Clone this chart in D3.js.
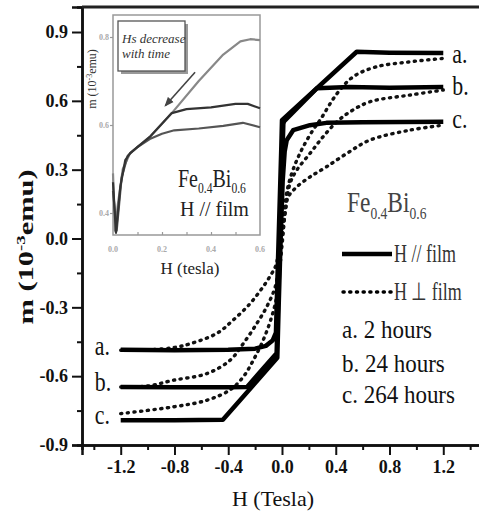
<!DOCTYPE html>
<html><head><meta charset="utf-8">
<script src="https://cdn.jsdelivr.net/npm/d3@7"></script>
<style>body{margin:0;background:#fff}</style>
</head><body>
<svg id="c" width="479" height="518"></svg>
<script>
// ---------- data ----------
const xTicks = [-1.2,-0.8,-0.4,0.0,0.4,0.8,1.2];
const xMinor = [-1.4,-1.0,-0.6,-0.2,0.2,0.6,1.0,1.4];
const yTicks = [-0.9,-0.6,-0.3,0.0,0.3,0.6,0.9];
const yMinor = [-0.75,-0.45,-0.15,0.15,0.45,0.75];
const insetXTicks = [0.0,0.2,0.4,0.6];
const insetYTicks = [0.4,0.6,0.8];
const seriesLabels = ["a.","b.","c."];
const legendTexts = ["a. 2 hours","b. 24 hours","c. 264 hours"];

// H // film (solid)
const solidA = [[-1.2,-0.485],[-0.8,-0.487],[-0.4,-0.485],[-0.2,-0.48],[-0.12,-0.468],[-0.07,-0.445],[-0.045,-0.41],[-0.035,-0.2],[-0.02,0.1],[-0.005,0.4],[0.0,0.516],[0.556,0.814],[0.8,0.81],[1.2,0.808]];
const solidB = [[-1.2,-0.647],[-0.8,-0.648],[-0.4,-0.648],[-0.26,-0.647],[-0.04,-0.50],[-0.03,-0.3],[-0.015,0.0],[0.0,0.3],[0.01,0.5],[0.015,0.51],[0.26,0.655],[0.5,0.66],[0.8,0.657],[1.2,0.66]];
const solidC = [[-1.2,-0.792],[-0.8,-0.792],[-0.44,-0.79],[-0.035,-0.52],[-0.025,-0.3],[-0.01,0.0],[0.005,0.25],[0.02,0.38],[0.035,0.428],[0.083,0.472],[0.208,0.494],[0.33,0.504],[0.6,0.507],[1.2,0.509]];
// H ⊥ film (dotted)
const dotA = [[-1.2,-0.487],[-1.0,-0.485],[-0.8,-0.475],[-0.68,-0.458],[-0.486,-0.414],[-0.364,-0.356],[-0.238,-0.284],[-0.14,-0.21],[-0.077,-0.153],[-0.05,-0.124],[-0.02,-0.05],[0.0,0.03],[0.035,0.2],[0.072,0.283],[0.11,0.341],[0.158,0.40],[0.23,0.472],[0.283,0.516],[0.41,0.632],[0.53,0.705],[0.70,0.748],[0.95,0.77],[1.2,0.785]];
const dotB = [[-1.2,-0.647],[-1.0,-0.643],[-0.81,-0.618],[-0.56,-0.589],[-0.387,-0.531],[-0.288,-0.458],[-0.188,-0.371],[-0.114,-0.298],[-0.05,-0.21],[-0.02,-0.1],[0.0,0.0],[0.025,0.12],[0.06,0.24],[0.11,0.298],[0.21,0.372],[0.305,0.443],[0.407,0.508],[0.506,0.552],[0.655,0.596],[0.95,0.625],[1.2,0.647]];
const dotC = [[-1.2,-0.763],[-0.81,-0.734],[-0.56,-0.705],[-0.387,-0.66],[-0.288,-0.603],[-0.214,-0.531],[-0.14,-0.443],[-0.077,-0.342],[-0.04,-0.255],[-0.015,-0.12],[0.005,0.0],[0.025,0.12],[0.045,0.18],[0.11,0.225],[0.21,0.269],[0.33,0.312],[0.48,0.37],[0.655,0.429],[0.95,0.472],[1.2,0.494]];
// inset (H // film, low field)
const insetTop = [[0.0,0.49],[0.008,0.36],[0.02,0.42],[0.04,0.50],[0.07,0.536],[0.15,0.573],[0.24,0.627],[0.35,0.70],[0.45,0.76],[0.52,0.79],[0.56,0.795],[0.6,0.793]];
const insetMid = [[0.0,0.47],[0.012,0.355],[0.03,0.46],[0.05,0.52],[0.07,0.536],[0.15,0.573],[0.24,0.627],[0.3,0.636],[0.4,0.64],[0.5,0.648],[0.55,0.648],[0.6,0.638]];
const insetLow = [[0.0,0.45],[0.015,0.36],[0.035,0.48],[0.06,0.53],[0.1,0.55],[0.15,0.568],[0.2,0.58],[0.25,0.588],[0.35,0.592],[0.45,0.598],[0.53,0.605],[0.6,0.595]];

// ---------- drawing ----------
const svg = d3.select("#c");
const serif = "'Liberation Serif','Times New Roman',serif";
const x = d3.scaleLinear().domain([-1.488, 1.5]).range([82, 483.6]);
const y = d3.scaleLinear().domain([-0.9, 1.009]).range([445, 7]);
const fmt = d => d.toFixed(1);

svg.append("clipPath").attr("id","pc").append("rect").attr("x",82).attr("y",7).attr("width",397).attr("height",438);

// axes
svg.append("g").attr("transform","translate(0,445)")
  .call(d3.axisBottom(x).tickValues(xTicks).tickSize(10).tickFormat(fmt).tickPadding(5));
svg.append("g").attr("transform","translate(0,445)")
  .call(d3.axisBottom(x).tickValues(xMinor).tickSize(5).tickFormat(""));
svg.append("g").attr("transform","translate(82,0)")
  .call(d3.axisLeft(y).tickValues(yTicks).tickSize(10).tickFormat(fmt).tickPadding(4));
svg.append("g").attr("transform","translate(82,0)")
  .call(d3.axisLeft(y).tickValues(yMinor).tickSize(5).tickFormat(""));
svg.selectAll(".domain").attr("stroke","#111").attr("stroke-width",2.5);
svg.selectAll(".tick line").attr("stroke","#111").attr("stroke-width",2);
svg.selectAll(".tick text").attr("font-family",serif).attr("font-weight","bold").attr("font-size",18).attr("fill","#111");
// top frame line
svg.append("line").attr("x1",82).attr("x2",479).attr("y1",7).attr("y2",7).attr("stroke","#222").attr("stroke-width",3);

// axis titles
svg.append("text").attr("x",273).attr("y",506).attr("text-anchor","middle").attr("font-family",serif).attr("font-size",22).attr("fill","#111").text("H (Tesla)");
const yl = svg.append("text").attr("transform","translate(33,247) rotate(-90) scale(1.45,1)").attr("text-anchor","middle").attr("font-family",serif).attr("font-size",21).attr("font-weight","bold").attr("fill","#111");
yl.append("tspan").text("m (10");
yl.append("tspan").attr("dy",-8).attr("font-size",13).text("-3");
yl.append("tspan").attr("dy",8).text("emu)");

// curves
const plot = svg.append("g").attr("clip-path","url(#pc)");
const lineLin = d3.line().x(d=>x(d[0])).y(d=>y(d[1]));
const lineSm = d3.line().x(d=>x(d[0])).y(d=>y(d[1])).curve(d3.curveCatmullRom.alpha(0.5));
[dotA,dotB,dotC].forEach(s=>{
  plot.append("path").attr("d",lineSm(s)).attr("fill","none").attr("stroke","#111")
    .attr("stroke-width",3.4).attr("stroke-linecap","round").attr("stroke-dasharray","1.2,5.5");
});
[solidA,solidB,solidC].forEach(s=>{
  plot.append("path").attr("d",lineLin(s)).attr("fill","none").attr("stroke","#000")
    .attr("stroke-width",4.5).attr("stroke-linejoin","round").attr("stroke-linecap","butt");
});

// series labels
const upEnds = [solidA, solidB, solidC].map(s=>s[s.length-1]);
const lowEnds = [solidA, solidB, solidC].map(s=>s[0]);
const lab = (tx,ty,t)=>svg.append("text").attr("transform",`translate(${tx},${ty}) scale(0.95,1.15)`).attr("font-family",serif).attr("font-size",23).attr("fill","#111").text(t);
upEnds.forEach((p,i)=>lab(x(p[0])+9, y(p[1])+[10,8,6][i], seriesLabels[i]));
lowEnds.forEach((p,i)=>lab(x(p[0])-26, y(p[1])+[5,4,4][i], seriesLabels[i]));

// legend
const fe = (tx,ty,fs,sx,col)=>{
  const t = svg.append("text").attr("transform",`translate(${tx},${ty}) scale(${sx},1)`).attr("font-family",serif).attr("font-size",fs).attr("fill",col);
  t.append("tspan").text("Fe");
  t.append("tspan").attr("dy",fs*0.22).attr("font-size",fs*0.58).text("0.4");
  t.append("tspan").attr("dy",-fs*0.22).text("Bi");
  t.append("tspan").attr("dy",fs*0.22).attr("font-size",fs*0.58).text("0.6");
};
fe(347,212,30,0.78,"#444");
svg.append("line").attr("x1",342).attr("x2",392).attr("y1",254).attr("y2",254).attr("stroke","#000").attr("stroke-width",4.5);
svg.append("line").attr("x1",343).attr("x2",392).attr("y1",292).attr("y2",292).attr("stroke","#000").attr("stroke-width",3.4).attr("stroke-linecap","round").attr("stroke-dasharray","1.2,5.5");
svg.append("text").attr("transform","translate(394,262) scale(0.72,1)").attr("font-family",serif).attr("font-size",25).attr("fill","#333").text("H // film");
svg.append("text").attr("transform","translate(394,300) scale(0.72,1)").attr("font-family",serif).attr("font-size",25).attr("fill","#333").text("H ⊥ film");
legendTexts.forEach((t,i)=>{
  svg.append("text").attr("transform",`translate(342,${[338,372,403][i]}) scale(1,1.1)`).attr("font-family",serif).attr("font-size",23).attr("fill","#111").text(t);
});

// ---------- inset ----------
const ix = d3.scaleLinear().domain([0,0.6]).range([113,260]);
const iy = d3.scaleLinear().domain([0.35,0.85]).range([235,15]);
svg.append("rect").attr("x",113).attr("y",15).attr("width",147).attr("height",220).attr("fill","#fff").attr("stroke","#999").attr("stroke-width",1.5);
const ig = svg.append("g");
ig.append("g").attr("transform","translate(0,235)").call(d3.axisTop(ix).tickValues([0.1,0.2,0.3,0.4,0.5]).tickSize(3).tickFormat(""));
ig.append("g").attr("transform","translate(113,0)").call(d3.axisLeft(iy).tickValues(insetYTicks).tickSize(3).tickFormat(""));
ig.selectAll(".domain").remove();
ig.selectAll(".tick line").attr("stroke","#999").attr("stroke-width",1.2);
insetXTicks.forEach(v=>ig.append("text").attr("x",ix(v)).attr("y",252).attr("text-anchor","middle").attr("font-family",serif).attr("font-weight","bold").attr("font-size",8).attr("fill","#aaa").text(fmt(v)));
insetYTicks.forEach(v=>ig.append("text").attr("x",109).attr("y",iy(v)+3).attr("text-anchor","end").attr("font-family",serif).attr("font-weight","bold").attr("font-size",8).attr("fill","#aaa").text(fmt(v)));
const iline = d3.line().x(d=>ix(d[0])).y(d=>iy(d[1]));
[[insetTop,"#888"],[insetLow,"#555"],[insetMid,"#333"]].forEach(([s,c])=>{
  ig.append("path").attr("d",iline(s)).attr("fill","none").attr("stroke",c).attr("stroke-width",2.2).attr("stroke-linejoin","round");
});
// arrow
svg.append("defs").append("marker").attr("id","ah").attr("viewBox","0 0 10 10").attr("refX",8).attr("refY",5)
  .attr("markerWidth",6).attr("markerHeight",6).attr("orient","auto")
  .append("path").attr("d","M0,1 L10,5 L0,9 Z").attr("fill","#444");
ig.append("line").attr("x1",ix(0.335)).attr("y1",iy(0.72)).attr("x2",ix(0.215)).attr("y2",iy(0.645)).attr("stroke","#444").attr("stroke-width",1.6).attr("marker-end","url(#ah)");
// note box
ig.append("rect").attr("x",121).attr("y",24).attr("width",67).attr("height",50).attr("fill","#999");
ig.append("rect").attr("x",118).attr("y",21).attr("width",67).attr("height",50).attr("fill","#fff").attr("stroke","#555").attr("stroke-width",1.3);
ig.append("text").attr("x",122).attr("y",43).attr("font-family",serif).attr("font-style","italic").attr("font-size",13).attr("fill","#333").text("Hs decrease");
ig.append("text").attr("x",122).attr("y",58).attr("font-family",serif).attr("font-style","italic").attr("font-size",13).attr("fill","#333").text("with time");
// inset labels
fe(178,187,25,0.8,"#222");
ig.append("text").attr("x",180).attr("y",216).attr("font-family",serif).attr("font-size",20).attr("fill","#222").text("H // film");
ig.append("text").attr("x",190).attr("y",274).attr("text-anchor","middle").attr("font-family",serif).attr("font-size",17).attr("fill","#222").text("H (tesla)");
const iyl = ig.append("text").attr("transform","translate(96,79) rotate(-90)").attr("text-anchor","middle").attr("font-family",serif).attr("font-size",12).attr("fill","#333");
iyl.append("tspan").text("m (10");
iyl.append("tspan").attr("dy",-4).attr("font-size",8).text("-3");
iyl.append("tspan").attr("dy",4).text("emu)");
</script>
</body></html>
